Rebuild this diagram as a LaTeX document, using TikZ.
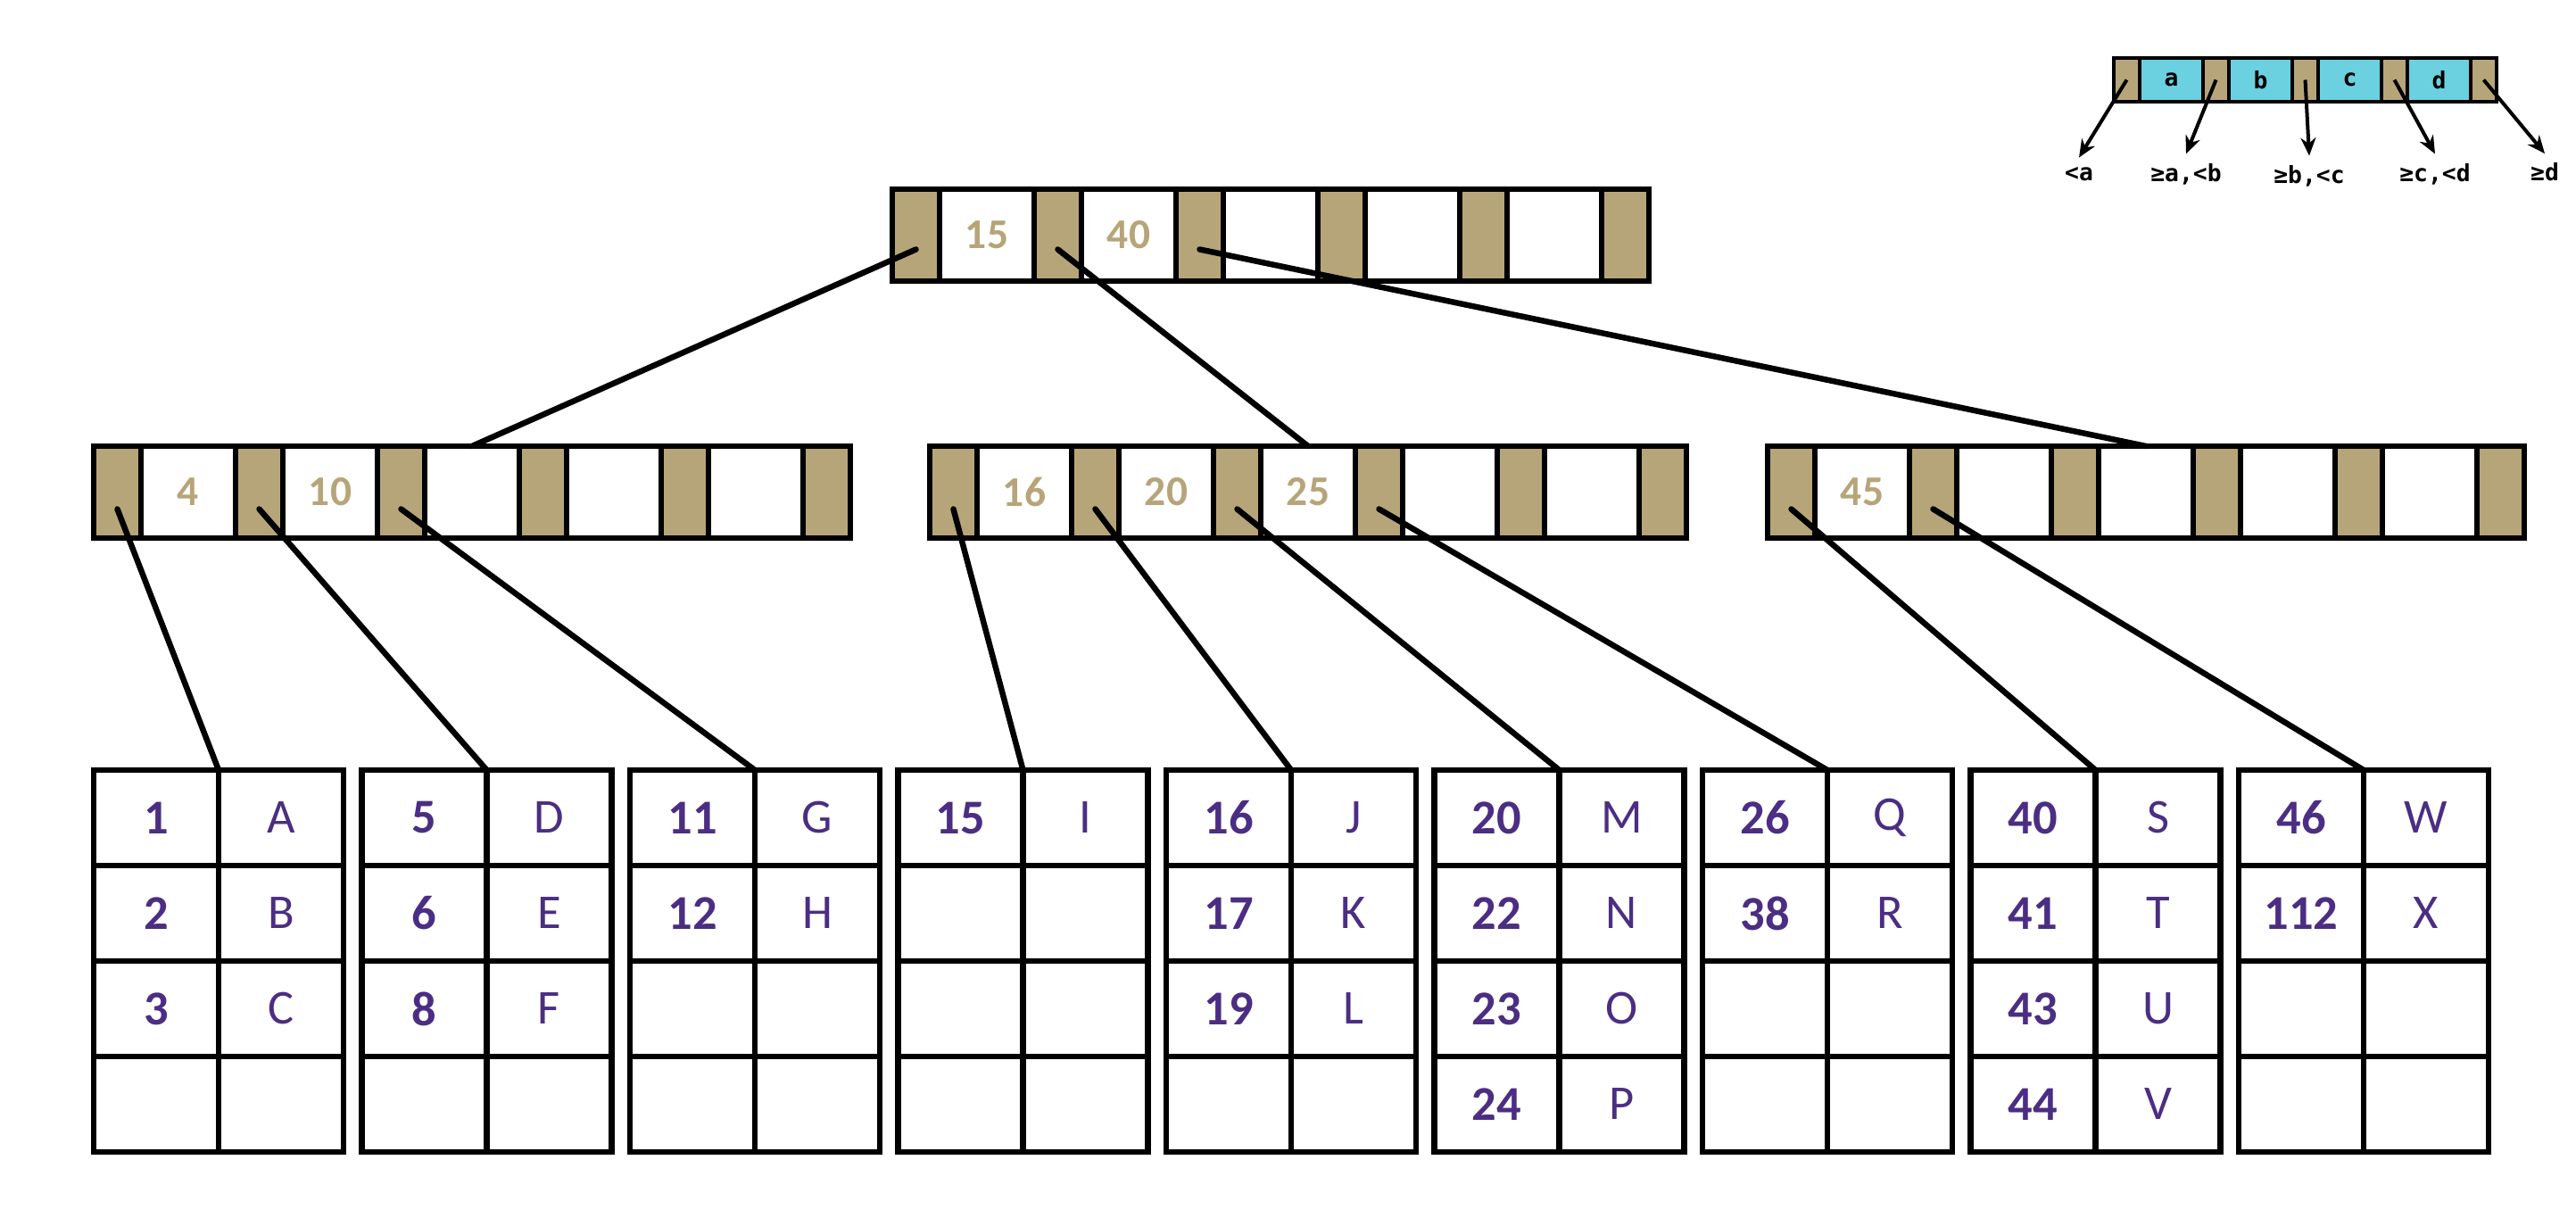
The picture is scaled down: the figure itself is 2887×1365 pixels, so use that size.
\documentclass[tikz,border=0pt]{standalone}
\usepackage{fontspec}
\setmainfont{Carlito}
\newfontfamily\legendfont{DejaVu Sans Mono}
\usepackage{xcolor}
\usetikzlibrary{arrows.meta,positioning}

\definecolor{uwgold}{HTML}{B7A57A}
\definecolor{uwpurple}{HTML}{4B2E83}
\definecolor{legcyan}{HTML}{6BD0E0}

% internal node: name, left x, centre y, keys
\newcommand{\bnode}[4]{%
  \node[ptrcell] (#1-p0) at (#2+26.5,#3) {};
  \foreach \k [count=\i] in {#4}{
    \node[keycell] (#1-k\i) at (#2+159*\i-53,#3) {\k};
    \node[ptrcell] (#1-p\i) at (#2+159*\i+26.5,#3) {};
  }%
}
% leaf: name, left x, key/value rows
\newcommand{\leaf}[3]{%
  \foreach \k/\v [count=\r] in {#3}{
    \node[leafkey] (#1-\r-1) at (#2+70,863+107*\r-53.5) {\k};
    \node[leafval,right=0pt of #1-\r-1] (#1-\r-2) {\v};
  }%
}

\begin{document}
\begin{tikzpicture}[
  x=0.1mm,y=-0.1mm,
  cell/.style={draw,line width=0.65mm,outer sep=0pt,inner sep=0pt,minimum height=10.3mm},
  ptrcell/.style={cell,fill=uwgold,minimum width=5.3mm},
  keycell/.style={cell,fill=white,minimum width=10.6mm,text=uwgold,
                  font=\fontsize{13.5}{16}\selectfont\bfseries},
  leafcell/.style={draw,line width=0.65mm,outer sep=0pt,inner sep=0pt,
                   minimum width=14mm,minimum height=10.7mm,text=uwpurple},
  leafkey/.style={leafcell,font=\fontsize{15.5}{18}\selectfont\bfseries},
  leafval/.style={leafcell,font=\fontsize{15.5}{18}\selectfont},
  link/.style={line width=0.65mm,line cap=round},
  legcell/.style={draw,line width=0.35mm,outer sep=0pt,inner sep=0pt,minimum height=4.9mm},
  legptr/.style={legcell,fill=uwgold,minimum width=2.9mm},
  legkey/.style={legcell,fill=legcyan,minimum width=7.1mm,
                 font=\legendfont\bfseries\fontsize{7.5}{8}\selectfont},
  leglabel/.style={inner sep=1mm,font=\legendfont\bfseries\fontsize{7.5}{8}\selectfont},
  legarrow/.style={-{Stealth[length=2mm,width=1.7mm]},line width=0.4mm}
]
\useasboundingbox (0,0) rectangle (2887,1365);

% legend
\node[legptr] (lg-p0) at (2383.5,89.5) {};
\foreach \k [count=\i] in {a,b,c,d}{
  \node[legkey] (lg-k\i) at (2333.5+100*\i,89.5) {\k};
  \node[legptr] (lg-p\i) at (2383.5+100*\i,89.5) {};
}
\node[leglabel] (lg-l0) at (2330,195) {<a};
\node[leglabel] (lg-l1) at (2450,195) {≥a,<b};
\node[leglabel] (lg-l2) at (2588,197) {≥b,<c};
\node[leglabel] (lg-l3) at (2729,195) {≥c,<d};
\node[leglabel] (lg-l4) at (2852,193) {≥d};
\foreach \i in {0,...,4}
  \draw[legarrow] (lg-p\i.center) -- (lg-l\i.north);

% internal nodes
\bnode{root}{1000}{263.5}{15,40,{},{},{}}
\bnode{left}{105}{551.5}{4,10,{},{},{}}
\bnode{mid}{1042}{551.5}{16,20,25,{},{}}
\bnode{right}{1981}{551.5}{45,{},{},{},{}}

% leaves
\leaf{leaf1}{105}{1/A,2/B,3/C,{}/{}}
\leaf{leaf2}{405.5}{5/D,6/E,8/F,{}/{}}
\leaf{leaf3}{706}{11/G,12/H,{}/{},{}/{}}
\leaf{leaf4}{1006.5}{15/I,{}/{},{}/{},{}/{}}
\leaf{leaf5}{1307}{16/J,17/K,19/L,{}/{}}
\leaf{leaf6}{1607.5}{20/M,22/N,23/O,24/P}
\leaf{leaf7}{1908}{26/Q,38/R,{}/{},{}/{}}
\leaf{leaf8}{2208.5}{40/S,41/T,43/U,44/V}
\leaf{leaf9}{2509}{46/W,112/X,{}/{},{}/{}}

% pointers
\foreach \p/\n in {0/left,1/mid,2/right}
  \draw[link] ([yshift=-1.6mm]root-p\p.center) -- (\n-k3.north);
\foreach \p/\l in {0/1,1/2,2/3}
  \draw[link] ([yshift=-1.9mm]left-p\p.center) -- (leaf\l-1-1.north east);
\foreach \p/\l in {0/4,1/5,2/6,3/7}
  \draw[link] ([yshift=-1.9mm]mid-p\p.center) -- (leaf\l-1-1.north east);
\foreach \p/\l in {0/8,1/9}
  \draw[link] ([yshift=-1.9mm]right-p\p.center) -- (leaf\l-1-1.north east);
\end{tikzpicture}
\end{document}
